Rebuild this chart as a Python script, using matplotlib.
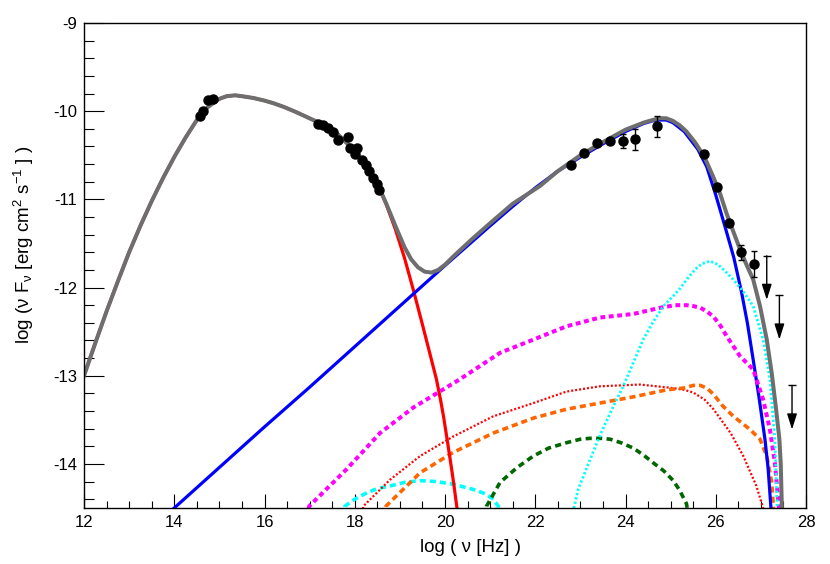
import matplotlib.pyplot as plt
from matplotlib.ticker import MultipleLocator

plt.rcParams['font.family'] = ['Liberation Sans', 'DejaVu Sans']
plt.rcParams['mathtext.fontset'] = 'custom'
plt.rcParams['mathtext.rm'] = 'Liberation Sans'
plt.rcParams['mathtext.it'] = 'Liberation Sans:italic'
plt.rcParams['axes.unicode_minus'] = False

# --- data points ---
opt_x = [14.57, 14.63, 14.75, 14.85]
opt_y = [-10.05, -10.00, -9.87, -9.86]

xray_x = [17.19, 17.30, 17.41, 17.52, 17.62, 17.84, 17.89, 18.00, 18.04, 18.15, 18.26, 18.31, 18.41, 18.49, 18.54]
xray_y = [-10.14, -10.16, -10.19, -10.24, -10.33, -10.29, -10.42, -10.49, -10.42, -10.55, -10.61, -10.68, -10.76, -10.83, -10.89]

gam_x = [22.79, 23.09, 23.36, 23.65, 23.94, 24.21, 24.70, 25.75, 26.03, 26.29, 26.57, 26.85]
gam_y = [-10.61, -10.47, -10.36, -10.34, -10.34, -10.32, -10.17, -10.49, -10.86, -11.27, -11.60, -11.73]
gam_err = [0, 0, 0, 0, 0.08, 0.12, 0.12, 0, 0, 0, 0.085, 0.15]

ul_x = [27.13, 27.41, 27.69]
ul_y = [-11.64, -12.09, -13.11]

# --- model curves ---
sync_x = [12.0, 12.25, 12.5, 12.75, 13.0, 13.25, 13.5, 13.75, 14.0, 14.25, 14.5, 14.75, 15.0,
          15.16, 15.35, 15.5, 15.75, 16.0, 16.2, 16.42, 16.7, 17.08, 17.3, 17.6, 17.9, 18.2, 18.5, 18.7, 18.9,
          19.1, 19.3, 19.5, 19.6, 19.7, 19.81, 19.9, 19.97, 20.04, 20.1, 20.15, 20.2, 20.26, 20.3]
sync_y = [-13.0, -12.63, -12.27, -11.93, -11.6, -11.3, -11.02, -10.76, -10.52, -10.3, -10.1, -9.95, -9.86,
          -9.83, -9.82, -9.83, -9.85, -9.88, -9.91, -9.95, -10.01, -10.10, -10.15, -10.25,
          -10.4, -10.58, -10.82, -11.06, -11.34, -11.66, -12.03, -12.42, -12.62, -12.82, -13.04, -13.27, -13.47,
          -13.70, -13.9, -14.07, -14.25, -14.48, -14.62]

total_x = [12.0, 12.25, 12.5, 12.75, 13.0, 13.25, 13.5, 13.75, 14.0, 14.25, 14.5, 14.75, 15.0,
           15.16, 15.35, 15.5, 15.75, 16.0, 16.2, 16.42, 16.7, 17.08, 17.3, 17.6, 17.9, 18.2, 18.5, 18.7, 18.9,
           19.1, 19.25, 19.4, 19.55, 19.7, 19.85, 20.0, 20.2, 20.6, 21.0, 21.5, 22.1, 22.5, 23.0, 23.5, 24.0,
           24.4, 24.6, 24.76, 24.9, 25.05, 25.2, 25.35, 25.55, 25.75, 25.94, 26.1, 26.24, 26.4, 26.54, 26.68,
           26.83, 26.98, 27.13, 27.24, 27.33, 27.41, 27.44, 27.47]
total_y = [-13.0, -12.63, -12.27, -11.93, -11.6, -11.3, -11.02, -10.76, -10.52, -10.3, -10.1, -9.95, -9.86,
           -9.83, -9.82, -9.83, -9.85, -9.88, -9.91, -9.95, -10.01, -10.10, -10.15, -10.25,
           -10.4, -10.58, -10.82, -11.05, -11.3, -11.54, -11.68, -11.77, -11.82, -11.83, -11.8, -11.74, -11.64,
           -11.45, -11.27, -11.05, -10.85, -10.68, -10.5, -10.35, -10.21, -10.13, -10.1, -10.08, -10.08, -10.11,
           -10.16, -10.23, -10.36, -10.52, -10.74, -10.94, -11.16, -11.38, -11.57, -11.74, -11.91, -12.21, -12.59,
           -12.97, -13.35, -13.72, -14.0, -14.6]

ssc_x = [14.0, 15.0, 16.0, 17.0, 18.0, 19.0, 20.0, 21.0, 21.5, 22.0, 22.5, 23.0, 23.5, 24.0, 24.4, 24.6, 24.75,
         24.9, 25.05, 25.3, 25.6, 25.8, 26.0, 26.2, 26.4, 26.57, 26.7, 26.83, 26.96, 27.09, 27.16, 27.22, 27.24]
ssc_y = [-14.5, -14.04, -13.58, -13.13, -12.67, -12.21, -11.75, -11.3, -11.08, -10.87, -10.68, -10.52, -10.37,
         -10.23, -10.14, -10.11, -10.1, -10.1, -10.13, -10.23, -10.43, -10.63, -10.95, -11.3, -11.66, -12.05,
         -12.4, -12.82, -13.25, -13.72, -14.05, -14.48, -14.6]

cyan_hi_x = [22.81, 22.95, 23.2, 23.43, 23.7, 23.95, 24.2, 24.39, 24.6, 24.84, 25.05, 25.21, 25.4, 25.55, 25.7,
             25.87, 26.05, 26.2, 26.39, 26.6, 26.83, 27.05, 27.2, 27.31, 27.36, 27.37]
cyan_hi_y = [-14.6, -14.29, -13.97, -13.68, -13.38, -13.12, -12.82, -12.59, -12.4, -12.21, -12.1, -12.01,
             -11.88, -11.79, -11.73, -11.70, -11.74, -11.81, -11.91, -12.04, -12.21, -12.59, -13.04, -13.72,
             -14.48, -14.6]

mag_x = [16.95, 16.99, 17.82, 18.56, 19.3, 20.33, 21.22, 21.96, 22.69, 23.43, 24.17, 24.76, 25.1, 25.35, 25.5,
         25.66, 25.8, 25.95, 26.1, 26.24, 26.54, 26.83, 27.05, 27.2, 27.31, 27.4, 27.42]
mag_y = [-14.6, -14.48, -14.06, -13.65, -13.36, -13.04, -12.74, -12.59, -12.44, -12.34, -12.30, -12.23, -12.2,
         -12.20, -12.21, -12.23, -12.27, -12.33, -12.43, -12.55, -12.78, -12.93, -13.27, -13.61, -13.99, -14.5,
         -14.6]

red_dot_x = [18.15, 18.19, 18.78, 19.45, 20.18, 21.07, 21.96, 22.69, 23.43, 24.32, 25.06, 25.3, 25.5, 25.75,
             25.95, 26.33, 26.61, 26.9, 27.05, 27.08]
red_dot_y = [-14.6, -14.48, -14.18, -13.91, -13.69, -13.46, -13.31, -13.18, -13.12, -13.1, -13.14, -13.16,
             -13.19, -13.27, -13.38, -13.65, -13.91, -14.25, -14.5, -14.6]

orange_x = [18.65, 18.69, 19.45, 20.18, 21.07, 21.96, 22.69, 23.43, 24.17, 24.91, 25.28, 25.5, 25.66, 25.8,
            25.95, 26.15, 26.39, 26.76, 26.98, 27.13, 27.24, 27.28, 27.3]
orange_y = [-14.6, -14.48, -14.10, -13.87, -13.65, -13.48, -13.38, -13.31, -13.24, -13.16, -13.14, -13.11,
            -13.11, -13.14, -13.21, -13.34, -13.46, -13.61, -13.72, -13.91, -14.21, -14.5, -14.6]

cyan_lo_x = [17.74, 17.78, 18.0, 18.26, 18.5, 18.78, 19.1, 19.45, 19.8, 20.18, 20.63, 20.9, 21.07, 21.18, 21.22]
cyan_lo_y = [-14.6, -14.48, -14.4, -14.33, -14.28, -14.25, -14.21, -14.19, -14.2, -14.23, -14.29, -14.34, -14.4,
             -14.48, -14.6]

green_x = [20.88, 20.92, 21.22, 21.6, 21.96, 22.3, 22.69, 23.0, 23.21, 23.45, 23.66, 23.9, 24.17, 24.4, 24.62,
           24.85, 25.06, 25.2, 25.35, 25.4]
green_y = [-14.6, -14.48, -14.21, -14.04, -13.91, -13.82, -13.76, -13.72, -13.71, -13.71, -13.72, -13.76,
           -13.82, -13.9, -13.99, -14.08, -14.19, -14.3, -14.45, -14.6]

fig = plt.figure(figsize=(8.3, 5.64), dpi=100)
ax = fig.add_axes([0.1012, 0.0993, 0.8699, 0.8599])

ax.plot(cyan_lo_x, cyan_lo_y, color='#00ffff', lw=2.6, ls=(0, (1.7, 1.1)))
ax.plot(green_x, green_y, color='#006600', lw=2.6, ls=(0, (1.7, 1.2)))
ax.plot(red_dot_x, red_dot_y, color='#ff0000', lw=1.6, ls=(0, (0.9, 0.9)))
ax.plot(orange_x, orange_y, color='#ff6600', lw=2.6, ls=(0, (1.7, 1.1)))
ax.plot(sync_x, sync_y, color='#ff0000', lw=2.3)
ax.plot(ssc_x, ssc_y, color='#0000ff', lw=2.3)
ax.plot(mag_x, mag_y, color='#ff00ff', lw=2.9, ls=(0, (1.2, 0.9)))
ax.plot(cyan_hi_x, cyan_hi_y, color='#00ffff', lw=2.0, ls=(0, (0.8, 0.8)))
ax.plot(total_x, total_y, color='#6e6e6e', lw=2.9)

ax.plot(opt_x, opt_y, 'o', color='k', ms=6.5)
ax.plot(xray_x, xray_y, 'o', color='k', ms=6.5)
ax.errorbar(gam_x, gam_y, yerr=gam_err, fmt='o', color='k', ms=6.5, elinewidth=1, capsize=2.2, capthick=1)

for x, y in zip(ul_x, ul_y):
    ax.annotate('', xy=(x, y - 0.5), xytext=(x, y),
                arrowprops=dict(arrowstyle='-|>,head_length=0.95,head_width=0.3', color='k', lw=1,
                                mutation_scale=10, shrinkA=0, shrinkB=0))
    ax.plot([x], [y], marker='_', color='k', ms=6, mew=1)

ax.set_xlim(12, 28)
ax.set_ylim(-14.5, -9)
ax.xaxis.set_major_locator(MultipleLocator(2))
ax.xaxis.set_minor_locator(MultipleLocator(0.5))
ax.yaxis.set_major_locator(MultipleLocator(1))
ax.yaxis.set_minor_locator(MultipleLocator(0.2))
ax.tick_params(axis='both', which='both', direction='in', width=0.8, labelsize=12, pad=5)
ax.tick_params(axis='x', which='major', length=10)
ax.tick_params(axis='x', which='minor', length=5)
ax.tick_params(axis='y', which='major', length=14.5)
ax.tick_params(axis='y', which='minor', length=7.2)
for s in ax.spines.values():
    s.set_linewidth(1)

ax.set_xlabel('log ( ν [Hz] )', fontsize=13.5)
ax.xaxis.set_label_coords(0.535, -0.063)
ax.set_ylabel('log (ν F$_{\\mathrm{ν}}$ [erg cm$^{2}$ s$^{-1}$ ] )', fontsize=13.5)
ax.yaxis.set_label_coords(-0.066, 0.542)

fig.savefig('out.png', dpi=100)
